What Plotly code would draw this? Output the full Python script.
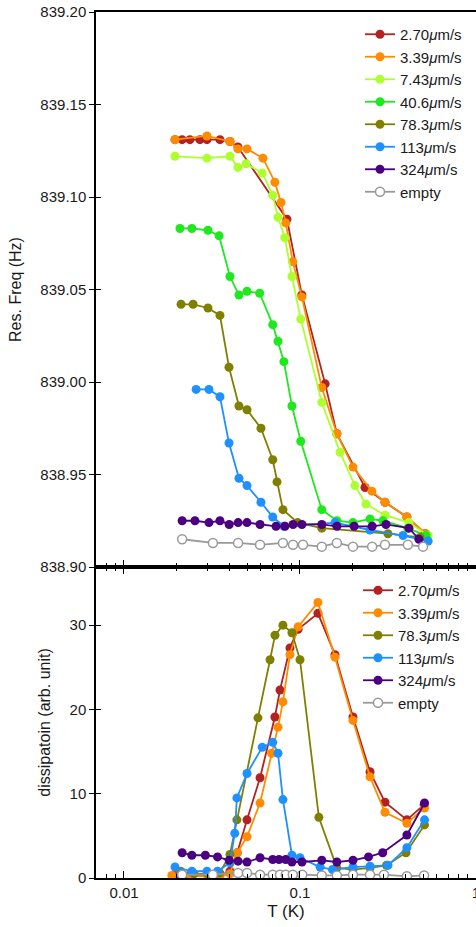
import plotly.graph_objects as go

# ---------------- data: top panel (resonance frequency, Hz) ----------------
t_270 = [0.0195, 0.0214, 0.0237, 0.027, 0.0296, 0.0351, 0.040, 0.0444, 0.0843, 0.1025, 0.139, 0.162, 0.234, 0.304, 0.405, 0.513]
f_270 = [839.131, 839.131, 839.131, 839.131, 839.131, 839.131, 839.130, 839.127, 839.088, 839.047, 838.999, 838.972, 838.943, 838.935, 838.927, 838.918]

t_339 = [0.0195, 0.0296, 0.040, 0.0444, 0.050, 0.0616, 0.072, 0.078, 0.083, 0.091, 0.1025, 0.133, 0.162, 0.200, 0.256, 0.304, 0.405, 0.52]
f_339 = [839.131, 839.133, 839.130, 839.126, 839.126, 839.121, 839.108, 839.097, 839.086, 839.065, 839.046, 838.997, 838.972, 838.954, 838.941, 838.935, 838.927, 838.918]

t_743 = [0.0195, 0.0296, 0.040, 0.0444, 0.0494, 0.061, 0.070, 0.075, 0.082, 0.090, 0.101, 0.133, 0.169, 0.205, 0.237, 0.304, 0.415, 0.535]
f_743 = [839.122, 839.121, 839.122, 839.116, 839.118, 839.113, 839.101, 839.089, 839.078, 839.057, 839.034, 838.989, 838.962, 838.944, 838.934, 838.928, 838.924, 838.917]

t_406 = [0.0208, 0.0243, 0.030, 0.0347, 0.040, 0.045, 0.050, 0.059, 0.070, 0.075, 0.081, 0.090, 0.101, 0.133, 0.162, 0.200, 0.250, 0.296, 0.41, 0.52]
f_406 = [839.083, 839.083, 839.082, 839.079, 839.057, 839.047, 839.049, 839.048, 839.031, 839.022, 839.011, 838.987, 838.968, 838.931, 838.925, 838.924, 838.926, 838.925, 838.921, 838.917]

t_783 = [0.0211, 0.0247, 0.030, 0.0351, 0.0395, 0.045, 0.050, 0.060, 0.070, 0.074, 0.080, 0.097, 0.133, 0.316, 0.48]
f_783 = [839.042, 839.042, 839.040, 839.036, 839.008, 838.987, 838.985, 838.975, 838.958, 838.946, 838.931, 838.924, 838.921, 838.918, 838.916]

t_113 = [0.0257, 0.0304, 0.0351, 0.0395, 0.045, 0.050, 0.060, 0.070, 0.081, 0.158, 0.25, 0.385, 0.535]
f_113 = [838.996, 838.996, 838.992, 838.967, 838.948, 838.944, 838.935, 838.927, 838.922, 838.924, 838.920, 838.917, 838.914]

t_324 = [0.0214, 0.0253, 0.0304, 0.0351, 0.0396, 0.0445, 0.050, 0.0593, 0.0731, 0.0822, 0.0913, 0.1026, 0.133, 0.162, 0.203, 0.257, 0.308, 0.416, 0.474]
f_324 = [838.925, 838.925, 838.924, 838.925, 838.923, 838.924, 838.924, 838.923, 838.922, 838.922, 838.923, 838.923, 838.923, 838.922, 838.922, 838.922, 838.923, 838.921, 838.915]

t_empty = [0.0214, 0.032, 0.0445, 0.0593, 0.080, 0.0913, 0.104, 0.133, 0.162, 0.20, 0.257, 0.304, 0.41, 0.50]
f_empty = [838.915, 838.913, 838.913, 838.912, 838.913, 838.912, 838.912, 838.911, 838.913, 838.911, 838.911, 838.912, 838.912, 838.911]

# ---------------- data: bottom panel (dissipation, arb. unit) ----------------
td_270 = [0.0195, 0.0237, 0.030, 0.035, 0.040, 0.044, 0.050, 0.0593, 0.072, 0.077, 0.0877, 0.0975, 0.1265, 0.158, 0.20, 0.25, 0.304, 0.405, 0.507]
d_270 = [0.3, 0.3, 0.3, 0.3, 0.8, 3.0, 6.9, 11.9, 19.1, 22.3, 27.3, 29.5, 31.4, 26.5, 19.1, 12.6, 9.0, 6.9, 8.7]

td_339 = [0.0187, 0.024, 0.030, 0.035, 0.040, 0.044, 0.050, 0.0593, 0.069, 0.075, 0.080, 0.0877, 0.0975, 0.1265, 0.158, 0.20, 0.25, 0.304, 0.405, 0.51]
d_339 = [0.3, 0.2, 0.2, 0.2, 0.5, 3.0, 4.9, 8.9, 14.8, 17.9, 20.9, 26.5, 29.8, 32.7, 26.2, 18.7, 12.0, 7.8, 6.5, 8.3]

td_783 = [0.021, 0.025, 0.030, 0.035, 0.040, 0.0438, 0.0577, 0.0676, 0.0721, 0.080, 0.090, 0.10, 0.128, 0.162, 0.20, 0.25, 0.31, 0.40, 0.51]
d_783 = [0.8, 0.5, 0.5, 0.6, 2.8, 6.9, 19.0, 25.9, 28.8, 30.0, 29.1, 25.9, 7.2, 1.2, 1.0, 1.2, 1.5, 3.0, 6.3]

td_113 = [0.0195, 0.0243, 0.0296, 0.034, 0.040, 0.0426, 0.0438, 0.050, 0.061, 0.070, 0.075, 0.080, 0.090, 0.10, 0.13, 0.153, 0.20, 0.25, 0.316, 0.405, 0.51]
d_113 = [1.3, 0.8, 0.8, 0.8, 1.8, 5.3, 9.5, 12.4, 15.5, 16.1, 14.8, 9.3, 2.7, 2.4, 1.3, 1.0, 1.3, 1.4, 1.5, 3.6, 6.9]

td_324 = [0.0214, 0.0243, 0.029, 0.034, 0.0396, 0.0445, 0.050, 0.0593, 0.070, 0.076, 0.083, 0.090, 0.1026, 0.133, 0.162, 0.20, 0.245, 0.295, 0.405, 0.51]
d_324 = [3.0, 2.7, 2.7, 2.5, 2.1, 2.0, 1.9, 2.4, 2.2, 2.2, 2.2, 1.9, 1.9, 2.1, 1.9, 2.1, 2.5, 3.0, 5.1, 8.9]

td_empty = [0.0214, 0.032, 0.0445, 0.050, 0.0593, 0.070, 0.077, 0.083, 0.091, 0.103, 0.133, 0.162, 0.20, 0.25, 0.30, 0.405, 0.507]
d_empty = [0.4, 0.4, 0.6, 0.6, 0.4, 0.4, 0.4, 0.4, 0.4, 0.4, 0.3, 0.3, 0.4, 0.4, 0.4, 0.2, 0.3]

labels = ["2.70<i>μ</i>m/s", "3.39<i>μ</i>m/s", "7.43<i>μ</i>m/s", "40.6<i>μ</i>m/s",
          "78.3<i>μ</i>m/s", "113<i>μ</i>m/s", "324<i>μ</i>m/s", "empty"]
colors = ["#B22222", "#FF8C00", "#ADFF2F", "#1EE81E", "#808000", "#1E90FF", "#4B0082", "#999999"]

top_series = [(t_270, f_270), (t_339, f_339), (t_743, f_743), (t_406, f_406),
              (t_783, f_783), (t_113, f_113), (t_324, f_324), (t_empty, f_empty)]
bot_series = [(0, td_270, d_270), (1, td_339, d_339), (4, td_783, d_783),
              (5, td_113, d_113), (6, td_324, d_324), (7, td_empty, d_empty)]

FONT = "Liberation Sans, Arial, sans-serif"
TXT = "#1a1a1a"

fig = go.Figure()


def marker_for(i):
    if i == 7:
        return dict(size=9, color="white", line=dict(color=colors[i], width=1.5))
    return dict(size=9, color=colors[i], line=dict(width=0))


for i, (tx, fy) in enumerate(top_series):
    fig.add_trace(go.Scatter(x=tx, y=fy, mode="lines+markers", name=labels[i],
                             line=dict(color=colors[i], width=1.8),
                             marker=marker_for(i), xaxis="x", yaxis="y",
                             legend="legend"))

for i, tx, dy in bot_series:
    fig.add_trace(go.Scatter(x=tx, y=dy, mode="lines+markers", name=labels[i],
                             line=dict(color=colors[i], width=1.8),
                             marker=marker_for(i), xaxis="x2", yaxis="y2",
                             legend="legend2"))

# empty helper traces so the inner-tick overlay axes are drawn
fig.add_trace(go.Scatter(x=[], y=[], xaxis="x", yaxis="y3", showlegend=False, hoverinfo="skip"))
fig.add_trace(go.Scatter(x=[], y=[], xaxis="x2", yaxis="y4", showlegend=False, hoverinfo="skip"))

W, H = 476, 927
ML, MT, MB = 96, 12, 49
split = (878 - 567) / 866
xr = [-2.159, 0.0]
top_range = [838.90, 839.20]
bot_range = [0, 36.9]

xcommon = dict(type="log", range=xr, showline=True, linecolor="black", linewidth=1.5,
               ticks="inside", ticklen=7, tickwidth=1.2, tickcolor="black", dtick=1,
               showgrid=False, zeroline=False, ticklabeloverflow="allow",
               minor=dict(ticks="inside", ticklen=4, tickwidth=1, tickcolor="black",
                          dtick="D1", showgrid=False),
               tickfont=dict(size=15, color=TXT, family=FONT))
ycommon = dict(showline=True, linecolor="black", linewidth=1.5, ticks="outside",
               ticklen=5, tickwidth=1.2, tickcolor="black", showgrid=False, zeroline=False,
               ticklabeloverflow="allow",
               tickfont=dict(size=15, color=TXT, family=FONT))
yinner = dict(showline=False, ticks="inside", ticklen=5, tickwidth=1.2,
              tickcolor="black", showgrid=False, zeroline=False, showticklabels=False)

lg_font = dict(size=15, color=TXT, family=FONT)

fig.update_layout(
    width=W, height=H,
    margin=dict(l=ML, r=0, t=MT, b=MB, autoexpand=False),
    paper_bgcolor="white", plot_bgcolor="white",
    font=dict(family=FONT, color=TXT),
    xaxis=dict(**xcommon, domain=[0, 1], anchor="y", mirror=True, showticklabels=False),
    yaxis=dict(**ycommon, domain=[split, 1], range=top_range, dtick=0.05, tickformat=".2f",
               title=dict(text="Res. Freq (Hz)", font=dict(size=16, color=TXT, family=FONT))),
    yaxis3=dict(**yinner, overlaying="y", anchor="x", range=top_range, dtick=0.05),
    xaxis2=dict(**xcommon, domain=[0, 1], anchor="y2", mirror="ticks",
                title=dict(text="T (K)", font=dict(size=17, color=TXT, family=FONT), standoff=5)),
    yaxis2=dict(**ycommon, domain=[0, split], range=bot_range, tickvals=[0, 10, 20, 30],
                title=dict(text="dissipatoin (arb. unit)", font=dict(size=16, color=TXT, family=FONT))),
    yaxis4=dict(**yinner, overlaying="y2", anchor="x2", range=bot_range,
                tickvals=[0, 10, 20, 30]),
    legend=dict(x=(360 - 96) / 380, xanchor="left", y=(878 - 18) / 866, yanchor="top",
                bgcolor="rgba(0,0,0,0)", font=lg_font, itemwidth=30, tracegroupgap=0),
    legend2=dict(x=(358 - 96) / 380, xanchor="left", y=(878 - 574) / 866, yanchor="top",
                 bgcolor="rgba(0,0,0,0)", font=lg_font, itemwidth=30, tracegroupgap=0),
)

fig.write_html("out.html", config={"displayModeBar": False},
               post_script="document.body.style.margin='0';document.body.style.overflow='hidden';")
